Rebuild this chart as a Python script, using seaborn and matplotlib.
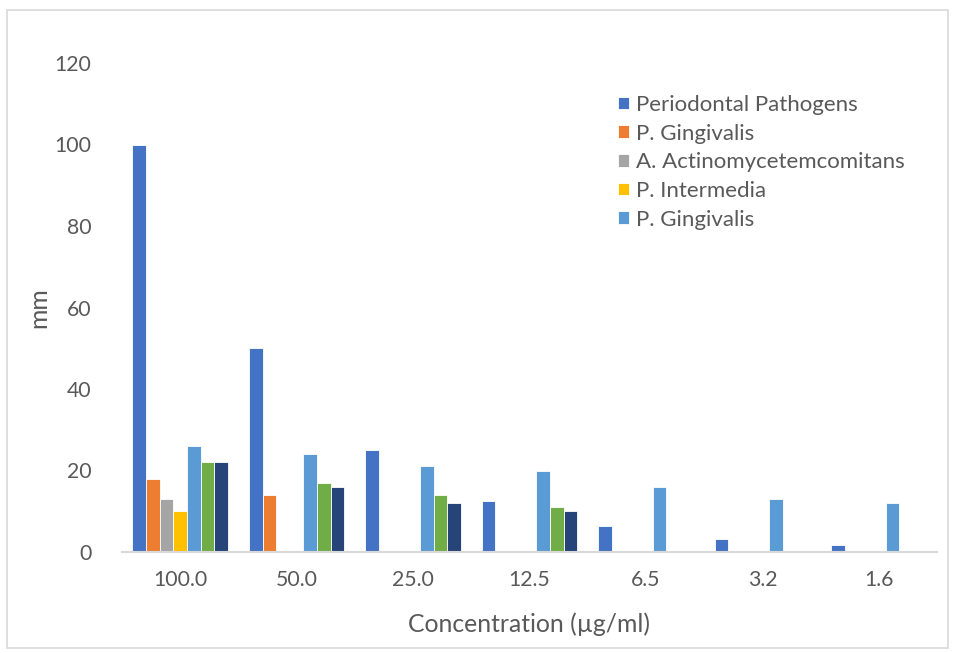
import matplotlib
matplotlib.use("Agg")
import matplotlib.pyplot as plt
from matplotlib.patches import Rectangle
import seaborn as sns
import pandas as pd

categories = ["100.0", "50.0", "25.0", "12.5", "6.5", "3.2", "1.6"]
series_keys = ["s1", "s2", "s3", "s4", "s5", "s6", "s7"]
legend_labels = ["Periodontal Pathogens", "P. Gingivalis", "A. Actinomycetemcomitans",
                 "P. Intermedia", "P. Gingivalis"]
periodontal = [100, 50, 25, 12.5, 6.5, 3.2, 1.6]
gingivalis = [18, 14, 0, 0, 0, 0, 0]
actino = [13, 0, 0, 0, 0, 0, 0]
intermedia = [10, 0, 0, 0, 0, 0, 0]
gingivalis2 = [26, 24, 21, 20, 16, 13, 12]
series6 = [22, 17, 14, 11, 0, 0, 0]
series7 = [22, 16, 12, 10, 0, 0, 0]
yticks = [0, 20, 40, 60, 80, 100, 120]

colors = ["#4472C4", "#ED7D31", "#A5A5A5", "#FFC000", "#5B9BD5", "#70AD47", "#264478"]

values = [periodontal, gingivalis, actino, intermedia, gingivalis2, series6, series7]
rows = []
for key, vals in zip(series_keys, values):
    for c, v in zip(categories, vals):
        rows.append({"cat": c, "series": key, "val": v})
df = pd.DataFrame(rows)

sns.set_style("white")
plt.rcParams["font.family"] = ["Lato", "DejaVu Sans"]
text_color = "#595959"

fig = plt.figure(figsize=(9.54, 6.53), dpi=100)
ax = fig.add_axes([122/954, 1-552/653, (937-122)/954, (552-63)/653])

sns.barplot(data=df, x="cat", y="val", hue="series", order=categories,
            hue_order=series_keys, palette=colors, width=0.82, ax=ax,
            saturation=1, edgecolor="white", linewidth=0.6, errorbar=None)

ax.set_ylim(0, 120)
ax.set_yticks(yticks)
ax.set_yticklabels([str(t) for t in yticks])
ax.set_xlim(-0.5, len(categories)-0.5)
for s in ["top", "right", "left"]:
    ax.spines[s].set_visible(False)
ax.spines["bottom"].set_color("#d9d9d9")
ax.spines["bottom"].set_linewidth(1.5)
ax.tick_params(axis="both", length=0, labelsize=15.3, colors=text_color)
ax.tick_params(axis="y", pad=22)
ax.tick_params(axis="x", pad=13)
ax.set_xlabel("Concentration (µg/ml)", fontsize=17.8, color=text_color, labelpad=16)
ax.set_ylabel("mm", fontsize=17.8, color=text_color, labelpad=3)

handles, _ = ax.get_legend_handles_labels()
if ax.get_legend() is not None:
    ax.get_legend().remove()
leg = ax.legend(handles[:5], legend_labels, loc="upper left",
                bbox_to_anchor=((609-122)/815, 1 - (86-63)/489),
                frameon=False, fontsize=16, handlelength=0.5, handleheight=0.5,
                handletextpad=0.3, labelspacing=0.39, borderaxespad=0)
for t in leg.get_texts():
    t.set_color(text_color)

fig.patches.append(Rectangle((7/954, 1-648/653), (948-7)/954, (648-10)/653,
                             transform=fig.transFigure, fill=False,
                             edgecolor="#d9d9d9", linewidth=1.2))

fig.savefig("out.png", dpi=100)
